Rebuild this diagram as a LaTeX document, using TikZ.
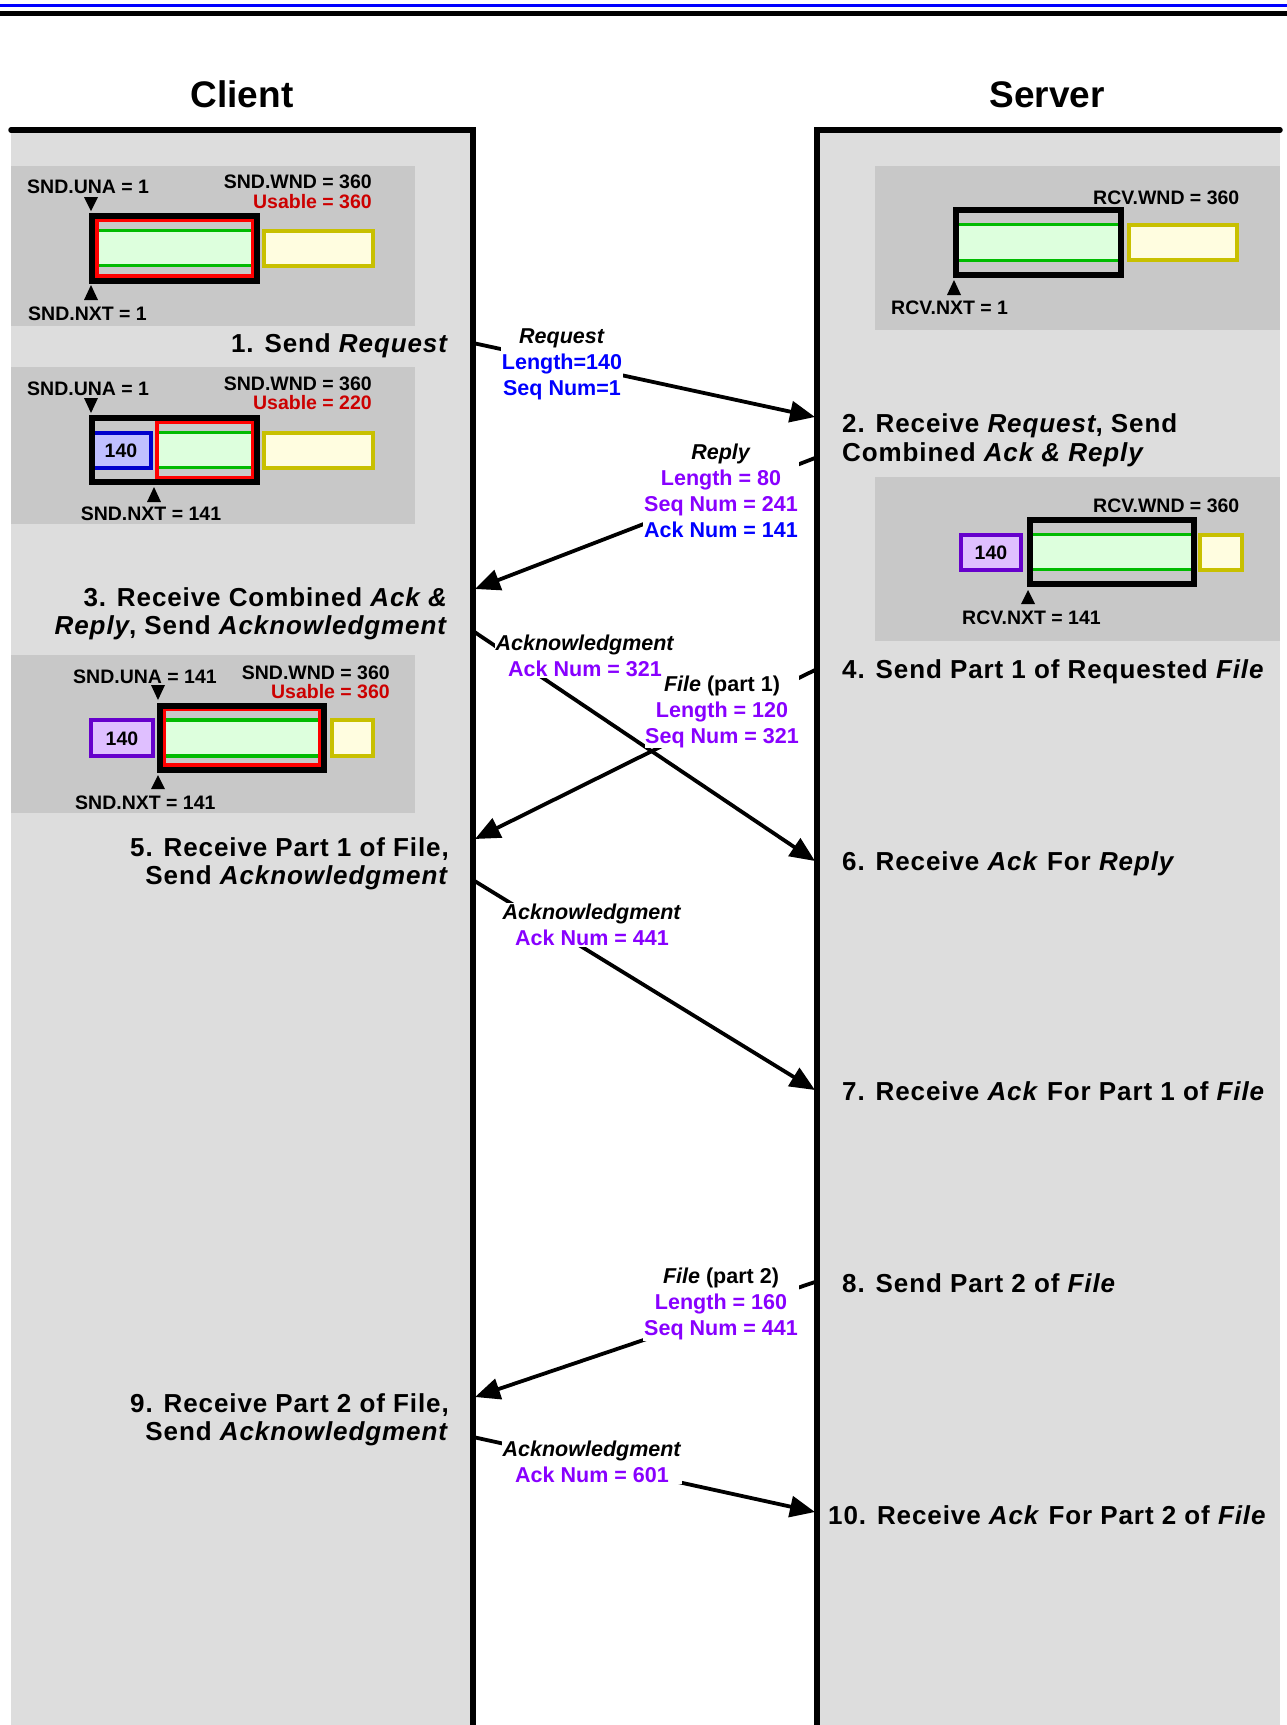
\documentclass[tikz,border=0pt]{standalone}
\usepackage{fontspec}
\setmainfont{Liberation Sans}
\newfontfamily\stepfam[LetterSpace=3.5]{Liberation Sans}
\usetikzlibrary{arrows.meta}

\definecolor{panelgray}{RGB}{221,221,221}
\definecolor{boxgray}{RGB}{200,200,200}
\definecolor{msgblue}{RGB}{0,0,255}
\definecolor{msgpurple}{RGB}{136,0,255}
\definecolor{usered}{RGB}{204,0,0}
\definecolor{winredc}{RGB}{255,0,0}
\definecolor{wingreen}{RGB}{0,187,0}
\definecolor{greenfill}{RGB}{221,255,221}
\definecolor{yelline}{RGB}{200,192,0}
\definecolor{yelfill}{RGB}{255,253,224}
\definecolor{bluefill}{RGB}{191,191,255}
\definecolor{blueboxc}{RGB}{0,0,204}
\definecolor{purpfill}{RGB}{223,191,255}
\definecolor{purpboxc}{RGB}{102,0,204}

\tikzset{
  titletxt/.style={font=\fontsize{37}{40}\selectfont\bfseries, inner sep=0pt, text height=26.5pt, text depth=0pt},
  steptxt/.style={font=\stepfam\fontsize{26}{30}\selectfont\bfseries, inner sep=0pt, text height=18.6pt, text depth=0pt},
  wlbl/.style={font=\fontsize{19.5}{22}\selectfont\bfseries, inner sep=0pt, text height=14pt, text depth=0pt},
  msg/.style={font=\fontsize{21.5}{26}\selectfont\bfseries, align=center, fill=white, inner sep=1pt},
  arr/.style={line width=3.8pt, -{Triangle[length=25pt,width=21pt]}},
  blkbox/.style={draw=black, line width=5.5pt},
  redbox/.style={draw=winredc, line width=4pt},
  yelbox/.style={draw=yelline, fill=yelfill, line width=4pt},
  grnline/.style={draw=wingreen, line width=3.4pt},
  bluebx/.style={draw=blueboxc, fill=bluefill, line width=3.6pt},
  purpbx/.style={draw=purpboxc, fill=purpfill, line width=3.6pt},
  border/.style={line width=5.5pt, line cap=round, line join=miter},
}

\begin{document}
\begin{tikzpicture}[x=1pt,y=-1pt]
\useasboundingbox (0,0) rectangle (1287,1725);
\fill[white] (0,0) rectangle (1287,1725);

% top rules
\draw[msgblue, line width=2.5pt] (0,5.5) -- (1287,5.5);
\draw[black, line width=5pt] (0,13.5) -- (1287,13.5);

% titles
\node[titletxt] (client) at (242,94) {Client};
\node[titletxt] (server) at (1047,94) {Server};

% panels
\fill[panelgray] (11,130) rectangle (473,1725);
\fill[panelgray] (817,130) rectangle (1280,1725);

% ---------- client window 1 ----------
\fill[boxgray] (11,166) rectangle (415,326);
\fill[greenfill] (92,230.5) rectangle (254,265.5);
\draw[grnline] (92,230.5) -- (254,230.5) (92,265.5) -- (254,265.5);
\draw[yelbox] (264,231) rectangle (373,266);
\draw[redbox] (97,220) rectangle (253,276);
\draw[blkbox] (92,216) rectangle (257,281);
\fill (84,197) -- (98,197) -- (91,211) -- cycle;
\fill (91,285) -- (98,300) -- (84,300) -- cycle;
\node[wlbl, anchor=west] (c1una) at (27,186) {SND.UNA = 1};
\node[wlbl, anchor=east] (c1wnd) at (372,181) {SND.WND = 360};
\node[wlbl, anchor=east, text=usered] (c1use) at (372,201) {Usable = 360};
\node[wlbl, anchor=west] (c1nxt) at (28,313) {SND.NXT = 1};

% ---------- client window 2 ----------
\fill[boxgray] (11,367) rectangle (415,524);
\fill[greenfill] (157,432.5) rectangle (254,467.5);
\draw[grnline] (157,432.5) -- (254,432.5) (157,467.5) -- (254,467.5);
\draw[bluebx] (91,433) rectangle (151,468);
\node[wlbl] (c2len) at (121,450.5) {140};
\draw[yelbox] (264,433) rectangle (373,468);
\draw[redbox] (157,422) rectangle (253,478);
\draw[blkbox] (92,418) rectangle (257,482);
\fill (84,398) -- (98,398) -- (91,413) -- cycle;
\fill (154,487) -- (161,502) -- (147,502) -- cycle;
\node[wlbl, anchor=west] (c2una) at (27,388) {SND.UNA = 1};
\node[wlbl, anchor=east] (c2wnd) at (372,383) {SND.WND = 360};
\node[wlbl, anchor=east, text=usered] (c2use) at (372,402) {Usable = 220};
\node[wlbl] (c2nxt) at (151,513) {SND.NXT = 141};

% ---------- client window 3 ----------
\fill[boxgray] (11,655) rectangle (415,813);
\draw[purpbx] (91,720) rectangle (153,756);
\node[wlbl] (c3len) at (122,738) {140};
\fill[greenfill] (164,720) rectangle (320,756);
\draw[grnline] (164,720) -- (320,720) (164,756) -- (320,756);
\draw[yelbox] (332,720) rectangle (373,756);
\draw[redbox] (164,709) rectangle (320,765);
\draw[blkbox] (160,706) rectangle (324,770);
\fill (151,685) -- (165,685) -- (158,700) -- cycle;
\fill (158,775) -- (165,789) -- (151,789) -- cycle;
\node[wlbl, anchor=west] (c3una) at (73,676) {SND.UNA = 141};
\node[wlbl, anchor=east] (c3wnd) at (390,672) {SND.WND = 360};
\node[wlbl, anchor=east, text=usered] (c3use) at (390,691) {Usable = 360};
\node[wlbl, anchor=west] (c3nxt) at (75,802) {SND.NXT = 141};

% ---------- server window 1 ----------
\fill[boxgray] (875,166) rectangle (1280,330);
\fill[greenfill] (956,224.5) rectangle (1120,260.5);
\draw[grnline] (956,224.5) -- (1120,224.5) (956,260.5) -- (1120,260.5);
\draw[yelbox] (1129,225) rectangle (1237,260);
\draw[blkbox] (956,210) rectangle (1121,275);
\fill (954,280) -- (961,295) -- (947,295) -- cycle;
\node[wlbl, anchor=west] (s1wnd) at (1093,197) {RCV.WND = 360};
\node[wlbl, anchor=west] (s1nxt) at (891,307) {RCV.NXT = 1};

% ---------- server window 2 ----------
\fill[boxgray] (875,477) rectangle (1280,641);
\draw[purpbx] (961,535) rectangle (1021,570);
\node[wlbl] (s2len) at (991,552.5) {140};
\fill[greenfill] (1030,534.5) rectangle (1193,569.5);
\draw[grnline] (1030,534.5) -- (1193,534.5) (1030,569.5) -- (1193,569.5);
\draw[yelbox] (1200,535) rectangle (1242,570);
\draw[blkbox] (1030,520) rectangle (1194,584);
\fill (1028,590) -- (1035,604) -- (1021,604) -- cycle;
\node[wlbl, anchor=west] (s2wnd) at (1093,505) {RCV.WND = 360};
\node[wlbl, anchor=west] (s2nxt) at (962,617) {RCV.NXT = 141};

% ---------- step texts ----------
\node[steptxt, anchor=east] (st1) at (449,343) {1. Send \textit{Request}};
\node[steptxt, anchor=west] (st2a) at (842,423) {2. Receive \textit{Request}, Send};
\node[steptxt, anchor=west] (st2b) at (842,452) {Combined \textit{Ack \& Reply}};
\node[steptxt, anchor=east] (st3a) at (448,597) {3. Receive Combined \textit{Ack \&}};
\node[steptxt, anchor=east] (st3b) at (448,625.5) {\textit{Reply}, Send \textit{Acknowledgment}};
\node[steptxt, anchor=west] (st4) at (842,669) {4. Send Part 1 of Requested \textit{File}};
\node[steptxt, anchor=east] (st5a) at (449,847) {5. Receive Part 1 of File,};
\node[steptxt, anchor=east] (st5b) at (449,875.5) {Send \textit{Acknowledgment}};
\node[steptxt, anchor=west] (st6) at (842,861) {6. Receive \textit{Ack} For \textit{Reply}};
\node[steptxt, anchor=west] (st7) at (842,1091) {7. Receive \textit{Ack} For Part 1 of \textit{File}};
\node[steptxt, anchor=west] (st8) at (842,1283) {8. Send Part 2 of \textit{File}};
\node[steptxt, anchor=east] (st9a) at (449,1403) {9. Receive Part 2 of File,};
\node[steptxt, anchor=east] (st9b) at (449,1431.5) {Send \textit{Acknowledgment}};
\node[steptxt, anchor=west] (st10) at (828,1515) {10. Receive \textit{Ack} For Part 2 of \textit{File}};

% ---------- arrows ----------
\coordinate (a1s) at (473,343);  \coordinate (a1e) at (815,417);
\coordinate (a2s) at (815,458);  \coordinate (a2e) at (475,589);
\coordinate (a3s) at (473,631);  \coordinate (a3e) at (815,861);
\coordinate (a4s) at (815,670);  \coordinate (a4e) at (475,839);
\coordinate (a5s) at (473,880);  \coordinate (a5e) at (815,1090);
\coordinate (a6s) at (815,1282); \coordinate (a6e) at (475,1397);
\coordinate (a7s) at (473,1437); \coordinate (a7e) at (815,1512);
\draw[arr] (a1s) -- (a1e);
\draw[arr] (a2s) -- (a2e);
\draw[arr] (a3s) -- (a3e);
\draw[arr] (a4s) -- (a4e);
\draw[arr] (a5s) -- (a5e);
\draw[arr] (a6s) -- (a6e);
\draw[arr] (a7s) -- (a7e);

% ---------- message labels ----------
\node[msg] (m1) at (562,364) {\textit{Request}\\\textcolor{msgblue}{Length=140}\\\textcolor{msgblue}{Seq Num=1}};
\node[msg] (m2) at (721,491) {\textit{Reply}\\\textcolor{msgpurple}{Length = 80}\\\textcolor{msgpurple}{Seq Num = 241}\\\textcolor{msgblue}{Ack Num = 141}};
\node[msg] (m3) at (585,656) {\textit{Acknowledgment}\\\textcolor{msgpurple}{Ack Num = 321}};
\node[msg, inner sep=0pt] (m4) at (722,712) {\textit{File} (part 1)\\\textcolor{msgpurple}{Length = 120}\\\textcolor{msgpurple}{Seq Num = 321}};
\node[msg] (m5) at (592,925) {\textit{Acknowledgment}\\\textcolor{msgpurple}{Ack Num = 441}};
\node[msg] (m6) at (721,1304) {\textit{File} (part 2)\\\textcolor{msgpurple}{Length = 160}\\\textcolor{msgpurple}{Seq Num = 441}};
\node[msg] (m7) at (592,1462) {\textit{Acknowledgment}\\\textcolor{msgpurple}{Ack Num = 601}};

% ---------- panel borders ----------
\draw[border] (11,130) -- (473,130) -- (473,1730);
\draw[border] (1280,130) -- (817,130) -- (817,1730);
\end{tikzpicture}
\end{document}
